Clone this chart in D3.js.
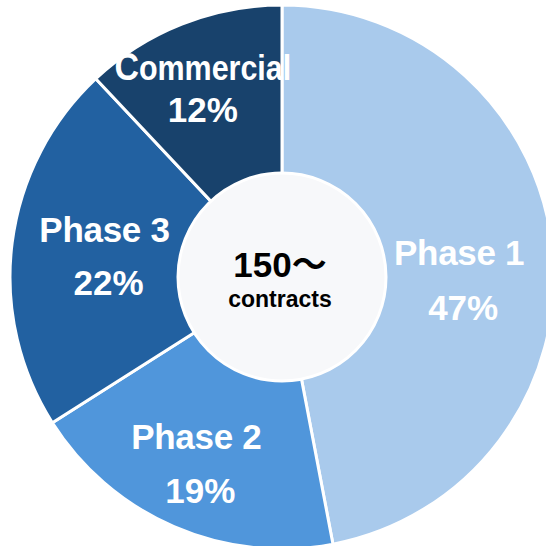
<!DOCTYPE html>
<html>
<head>
<meta charset="utf-8">
<script src="https://cdn.jsdelivr.net/npm/d3@7"></script>
<style>
  html, body { margin: 0; padding: 0; background: #ffffff; }
  svg { display: block; }
  text { font-family: "Liberation Sans", Arial, "Noto Sans CJK JP", sans-serif; font-weight: bold; }
</style>
</head>
<body>
<div id="chart"></div>
<script>
// Contract mix by development stage
const categories = ["Phase 1", "Phase 2", "Phase 3", "Commercial"];
const shares = [47, 19, 22, 12];
const centerValue = "150～";
const centerUnit = "contracts";

const colors = ["#a9caec", "#5096db", "#2261a1", "#18426c"];

const W = 546, H = 546;
const cx = 282, cy = 277;
const rOuter = 272, rInner = 104, rLabel = 188;

// per-label nudges away from the slice centroid
const labelNudge = {
  "Phase 1":    { dx: -10, dy: 6,   pctDx: 4, gap: 55 },
  "Phase 2":    { dx: -11, dy: -1,  pctDx: 4, gap: 54 },
  "Phase 3":    { dx: 9,   dy: -11, pctDx: 4, gap: 53 },
  "Commercial": { dx: -10, dy: -22, pctDx: 0, gap: 42 }
};

const svg = d3.select("#chart").append("svg")
  .attr("width", W).attr("height", H);

const g = svg.append("g").attr("transform", `translate(${cx},${cy})`);

const data = categories.map((c, i) => ({ name: c, value: shares[i] }));

const pie = d3.pie().value(d => d.value).sort(null);
const arc = d3.arc().innerRadius(0).outerRadius(rOuter);
const labelArc = d3.arc().innerRadius(rLabel).outerRadius(rLabel);
const color = d3.scaleOrdinal().domain(categories).range(colors);

const arcs = pie(data);

g.selectAll("path.slice")
  .data(arcs)
  .join("path")
  .attr("class", "slice")
  .attr("d", arc)
  .attr("fill", d => color(d.data.name))
  .attr("stroke", "#ffffff")
  .attr("stroke-width", 3)
  .attr("stroke-linejoin", "round");

// center disc
g.append("circle")
  .attr("r", rInner)
  .attr("fill", "#f7f8fa")
  .attr("stroke", "#ffffff")
  .attr("stroke-width", 3);

// slice labels
const labels = g.selectAll("g.label")
  .data(arcs)
  .join("g")
  .attr("class", "label")
  .attr("transform", d => {
    const [x, y] = labelArc.centroid(d);
    const n = labelNudge[d.data.name];
    return `translate(${x + n.dx},${y + n.dy})`;
  });

labels.each(function(d) {
  const sel = d3.select(this);
  const n = labelNudge[d.data.name];
  const name = sel.append("text")
    .attr("text-anchor", "middle")
    .attr("fill", "#ffffff");
  if (d.data.name === "Commercial") {
    // oversized initial, whole word squeezed to fit the slice
    name.attr("transform", "scale(0.87,1)");
    name.append("tspan").attr("font-size", 39).text(d.data.name.slice(0, 1));
    name.append("tspan").attr("font-size", 35).text(d.data.name.slice(1));
  } else {
    name.attr("font-size", 35).attr("letter-spacing", -0.3).text(d.data.name);
  }
  sel.append("text")
    .attr("text-anchor", "middle")
    .attr("x", n.pctDx)
    .attr("y", n.gap)
    .attr("fill", "#ffffff")
    .attr("font-size", 35)
    .text(d.data.value + "%");
});

// center caption
g.append("text")
  .attr("text-anchor", "middle")
  .attr("x", -2).attr("y", 0)
  .attr("font-size", 35)
  .attr("fill", "#000000")
  .text(centerValue);

g.append("text")
  .attr("text-anchor", "middle")
  .attr("x", -2).attr("y", 30)
  .attr("font-size", 23)
  .attr("fill", "#000000")
  .text(centerUnit);
</script>
</body>
</html>
